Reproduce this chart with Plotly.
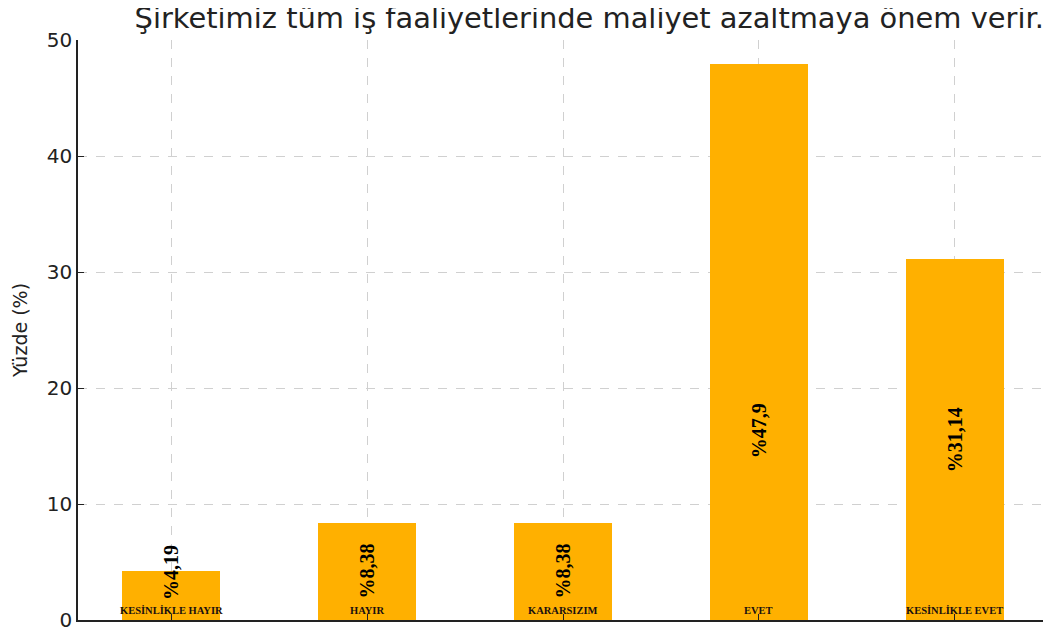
import plotly.graph_objects as go

categories = ["KESİNLİKLE HAYIR", "HAYIR", "KARARSIZIM", "EVET", "KESİNLİKLE EVET"]
values = [4.19, 8.38, 8.38, 47.9, 31.14]
value_labels = ["%4,19", "%8,38", "%8,38", "%47,9", "%31,14"]
y_ticks = [0, 10, 20, 30, 40, 50]

x_idx = list(range(len(categories)))

fig = go.Figure()
fig.add_trace(go.Bar(
    x=x_idx, y=values, width=0.5,
    marker=dict(color="#FFB000", line=dict(width=0)),
    hoverinfo="skip", showlegend=False,
))

# value labels, rotated, positioned in the lower part of each bar
label_y = [min(max(v / 2, 4.05), 16.35) for v in values]
for xi, ly, txt in zip(x_idx, label_y, value_labels):
    fig.add_annotation(
        x=xi, y=ly, text=txt, showarrow=False, textangle=-90,
        xanchor="center", yanchor="middle",
        font=dict(family="Liberation Serif", size=20, color="#000000", weight="bold"),
    )

for xi, cat in zip(x_idx, categories):
    fig.add_annotation(
        x=xi, y=0, text=cat, showarrow=False, yanchor="bottom", yshift=2,
        font=dict(family="Liberation Serif", size=10.5, color="#1a1010", weight="bold"),
    )

fig.update_layout(
    width=1051, height=635,
    margin=dict(l=67, r=11, t=32, b=22),
    paper_bgcolor="white", plot_bgcolor="white",
    font=dict(family="DejaVu Sans", color="#222222"),
    title=dict(
        text="Şirketimiz tüm iş faaliyetlerinde maliyet azaltmaya önem verir.",
        x=0.553, xanchor="center", y=0.984, yanchor="middle",
        font=dict(family="DejaVu Sans", size=28.9, color="#222222"),
    ),
    bargap=0,
)

fig.update_xaxes(
    range=[-0.475, 4.475], tickmode="array", tickvals=x_idx, ticktext=[""] * len(x_idx),
    ticks="inside", ticklen=6, tickcolor="#222222",
    showgrid=True, gridcolor="#d0d0d0", griddash="dash", gridwidth=1,
    showline=True, linecolor="#222222", linewidth=1.5, zeroline=False,
)
fig.update_yaxes(
    range=[0, 50], tickmode="array", tickvals=y_ticks,
    ticks="inside", ticklen=6, tickcolor="#222222",
    tickfont=dict(size=20, color="#222222"),
    title=dict(text="Yüzde (%)", font=dict(size=19, color="#222222"), standoff=14),
    showgrid=True, gridcolor="#d0d0d0", griddash="dash", gridwidth=1,
    showline=True, linecolor="#222222", linewidth=1.5, zeroline=False,
)

fig.write_html("out.html")
